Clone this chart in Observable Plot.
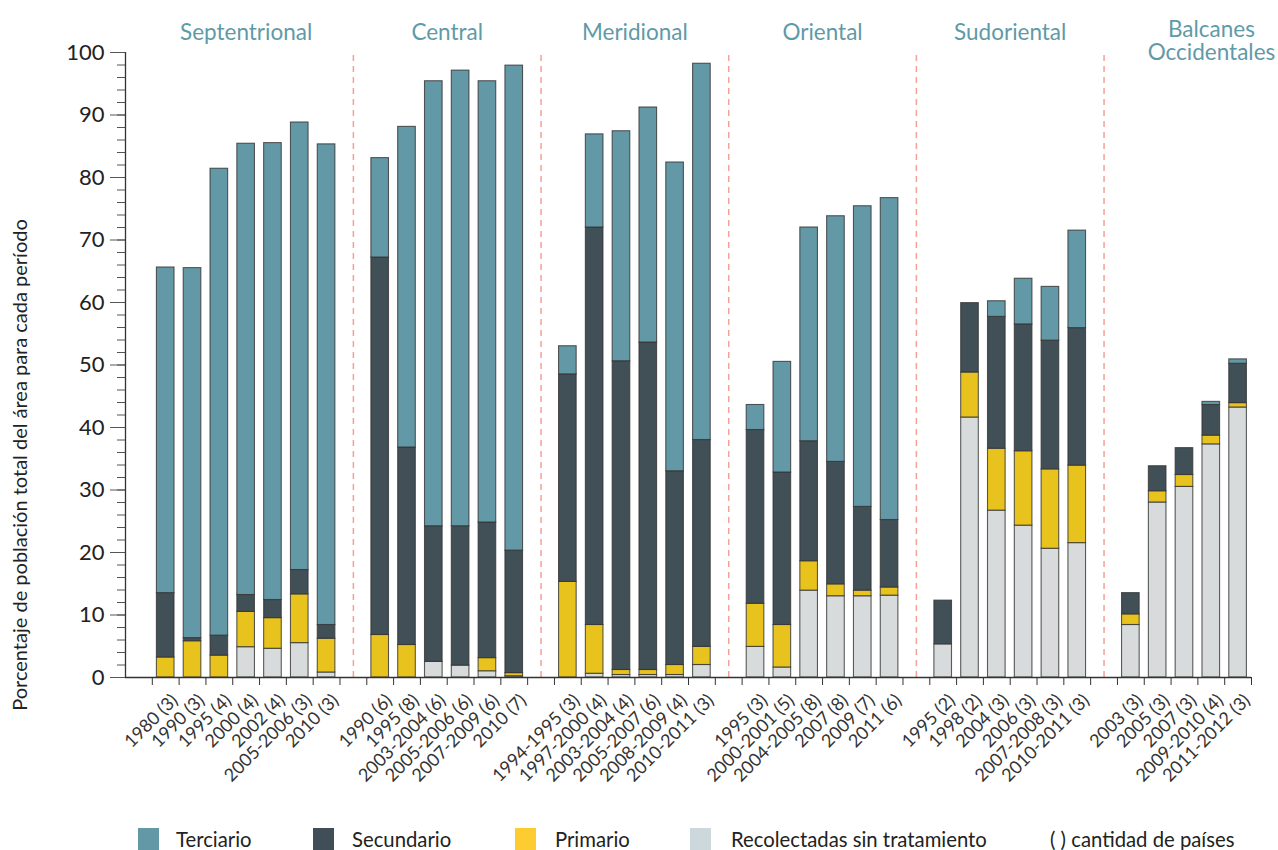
<!DOCTYPE html>
<html>
<head>
<meta charset="utf-8">
<script src="https://cdn.jsdelivr.net/npm/d3@7"></script>
<script src="https://cdn.jsdelivr.net/npm/@observablehq/plot@0.6"></script>
<style>
  html, body { margin: 0; padding: 0; background: #fff; }
  #wrap { position: relative; width: 1278px; height: 850px; overflow: hidden; font-family: Lato, "Open Sans", sans-serif; }
  #legend { position: absolute; left: 0; top: 828px; width: 1278px; height: 24px; }
  .sw { position: absolute; top: 0; width: 21px; height: 22px; }
  .lt { position: absolute; top: -1px; font-size: 20.3px; line-height: 24px; color: #222; white-space: nowrap; }
</style>
</head>
<body>
<div id="wrap">
  <div id="chart"></div>
  <div id="legend"></div>
</div>
<script>
// ---------- DATA ----------
const regions = ["Septentrional", "Central", "Meridional", "Oriental", "Sudoriental", "Balcanes\nOccidentales"];

const periods = [
  ["1980 (3)", "1990 (3)", "1995 (4)", "2000 (4)", "2002 (4)", "2005-2006 (3)", "2010 (3)"],
  ["1990 (6)", "1995 (8)", "2003-2004 (6)", "2005-2006 (6)", "2007-2009 (6)", "2010 (7)"],
  ["1994-1995 (3)", "1997-2000 (4)", "2003-2004 (4)", "2005-2007 (6)", "2008-2009 (4)", "2010-2011 (3)"],
  ["1995 (3)", "2000-2001 (5)", "2004-2005 (8)", "2007 (8)", "2009 (7)", "2011 (6)"],
  ["1995 (2)", "1998 (2)", "2004 (3)", "2006 (3)", "2007-2008 (3)", "2010-2011 (3)"],
  ["2003 (3)", "2005 (3)", "2007 (3)", "2009-2010 (4)", "2011-2012 (3)"]
];

const recolectadas = [
  [0, 0, 0, 4.85, 4.6, 5.5, 0.8],
  [0, 0, 2.5, 1.9, 1.0, 0.2],
  [0, 0.6, 0.4, 0.4, 0.4, 2.0],
  [4.9, 1.6, 13.9, 13.0, 13.0, 13.1],
  [5.3, 41.6, 26.7, 24.3, 20.6, 21.5],
  [8.4, 28.0, 30.5, 37.3, 43.2]
];
const primario = [
  [3.2, 5.8, 3.5, 5.65, 4.9, 7.8, 5.4],
  [6.8, 5.2, 0, 0, 2.1, 0.5],
  [15.3, 7.8, 0.8, 0.8, 1.6, 2.9],
  [6.9, 6.8, 4.7, 1.9, 0.9, 1.3],
  [0, 7.2, 9.9, 11.9, 12.7, 12.4],
  [1.7, 1.8, 1.9, 1.4, 0.7]
];
const secundario = [
  [10.3, 0.5, 3.2, 2.7, 2.9, 3.9, 2.2],
  [60.4, 31.6, 21.7, 22.3, 21.7, 19.6],
  [33.2, 63.6, 49.4, 52.4, 31.0, 33.1],
  [27.8, 24.4, 19.2, 19.6, 13.4, 10.8],
  [7.0, 11.1, 21.1, 20.3, 20.6, 22.0],
  [3.4, 4.0, 4.3, 4.9, 6.3]
];
const terciario = [
  [52.1, 59.2, 74.7, 72.2, 73.1, 71.6, 76.9],
  [15.9, 51.3, 71.2, 72.9, 70.6, 77.6],
  [4.5, 14.9, 36.8, 37.6, 49.4, 60.2],
  [4.0, 17.7, 34.2, 39.3, 48.1, 51.5],
  [0, 0, 2.5, 7.3, 8.6, 15.6],
  [0, 0, 0, 0.5, 0.7]
];

const components = ["Recolectadas sin tratamiento", "Primario", "Secundario", "Terciario"];
const barColors = ["#d8dbdc", "#e8c31d", "#414f56", "#6399a6"];
const legendOrder = ["Terciario", "Secundario", "Primario", "Recolectadas sin tratamiento"];
const legendColors = ["#6399a6", "#404f57", "#fdcc30", "#cdd8dd"];
const legendNote = "( ) cantidad de países";
const yTitle = "Porcentaje de población total del área para cada período";
const yTicks = d3.range(0, 101, 10);
const yMinorTicks = d3.range(0, 101, 2);

// ---------- BUILD ----------
const series = [recolectadas, primario, secundario, terciario];
const segs = [];
const bars = [];
const groups = [];
const separators = [];
let slot = 1;
regions.forEach((region, r) => {
  const start = slot;
  periods[r].forEach((p, i) => {
    let acc = 0;
    series.forEach((s, k) => {
      const v = s[r][i];
      if (v > 0) segs.push({slot, component: components[k], y1: acc, y2: acc + v});
      acc += v;
    });
    bars.push({slot, period: p});
    slot++;
  });
  groups.push({region, center: (start + slot) / 2});
  if (r < regions.length - 1) { separators.push(slot + 0.5); slot++; }
});
const nSlots = slot;
const labelAt = new Map(bars.map(b => [b.slot + 0.5, b.period]));
const titleStyle = {x: "center", text: "region", frameAnchor: "top", dy: -28, lineAnchor: "top",
  fill: "#5f9aa7", fontSize: 22.5, lineHeight: 1.0};

const chart = Plot.plot({
  width: 1278,
  height: 815,
  marginTop: 52,
  marginLeft: 125,
  marginRight: 27,
  marginBottom: 138,
  style: {fontFamily: "Lato, 'Open Sans', sans-serif", background: "white", overflow: "visible", color: "#333"},
  x: {domain: [0, nSlots], axis: null},
  y: {domain: [0, 100], axis: null},
  color: {domain: components, range: barColors},
  marks: [
    Plot.ruleX(separators, {y1: 0, y2: 100, stroke: "#f2a197", strokeWidth: 1.5, strokeDasharray: "6,5"}),
    Plot.rect(segs, {
      x1: "slot", x2: d => d.slot + 1, y1: "y1", y2: "y2",
      fill: "component", insetLeft: 4.6, insetRight: 4.6,
      stroke: "#333", strokeWidth: 1.1, strokeOpacity: 0.8
    }),
    Plot.axisY({ticks: yMinorTicks, tickSize: 8, tickFormat: () => "", stroke: "#555"}),
    Plot.axisY({ticks: yTicks, tickSize: 15, tickPadding: 6, fontSize: 22, fill: "#222", stroke: "#555", label: null}),
    Plot.ruleX([0], {y1: 0, y2: 100, stroke: "#333", strokeWidth: 1.3}),
    Plot.ruleY([0], {stroke: "#333", strokeWidth: 1.3}),
    Plot.axisX({ticks: d3.range(1, nSlots + 1), tickSize: 8, tickFormat: () => "", stroke: "#333", label: null}),
    Plot.axisX({
      ticks: bars.map(b => b.slot + 0.5), tickSize: 0, tickPadding: 20, dx: 9,
      tickFormat: v => labelAt.get(v), tickRotate: -45, fontSize: 18, fill: "#333", label: null
    }),
    Plot.text(groups.slice(0, -1), titleStyle),
    Plot.text(groups.slice(-1), {...titleStyle, dx: 27, dy: -32, lineHeight: 1.02}),
    Plot.text([yTitle], {frameAnchor: "left", textAnchor: "middle", rotate: -90, dx: -105, dy: 100, fontSize: 20, fill: "#222"})
  ]
});
document.getElementById("chart").appendChild(chart);

// ---------- LEGEND ----------
const legend = document.getElementById("legend");
const swX = [138, 313, 515, 690];
const txX = [176, 352, 555, 731];
legendOrder.forEach((name, i) => {
  const sw = document.createElement("div");
  sw.className = "sw"; sw.style.left = swX[i] + "px"; sw.style.background = legendColors[i];
  legend.appendChild(sw);
  const t = document.createElement("div");
  t.className = "lt"; t.style.left = txX[i] + "px"; t.textContent = name;
  legend.appendChild(t);
});
const note = document.createElement("div");
note.className = "lt"; note.style.left = "1050px"; note.textContent = legendNote;
legend.appendChild(note);
</script>
</body>
</html>
